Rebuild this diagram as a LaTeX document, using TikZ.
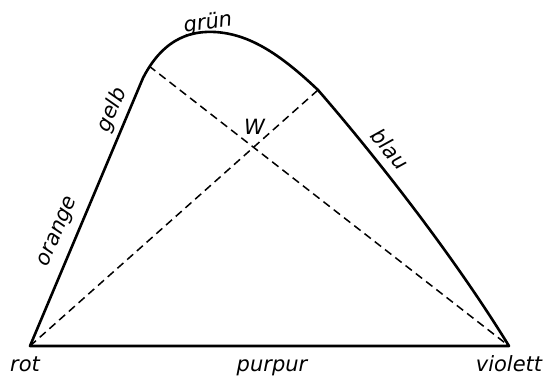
\documentclass[tikz,border=0pt]{standalone}
\usepackage{fontspec}
\setmainfont{DejaVu Sans}
\usetikzlibrary{positioning, calc}
\begin{document}
\begin{tikzpicture}[x=1pt, y=-1pt, font=\fontsize{21}{24}\selectfont\itshape,
    curve/.style={line width=2.6pt, line join=round},
    axis/.style={line width=1.5pt, dash pattern=on 8pt off 5pt},
    colour/.style={inner sep=0pt, anchor=base},
    tag/.style={inner sep=0pt, anchor=center}
]
\useasboundingbox (0,0) rectangle (552,379);
\coordinate (rot) at (30,346);
\coordinate (violett) at (509,346);
\coordinate (gelb) at (149,66);
\coordinate (blau) at (318,90);

\draw[curve] (rot) -- (143,78) .. controls (165,35) and (195,31) .. (215,32)
    .. controls (248,34) and (278,52) .. (blau)
    .. controls (370,150) and (450,250) .. (violett) -- cycle;

\draw[axis] (gelb) -- (violett);
\draw[axis] (rot) -- (blau);
\coordinate (w) at (intersection of gelb--violett and rot--blau);

\node[tag] (wlbl) at ($(w)+(1,-20)$) {W};
\node[colour] (rotlbl) at (25,372) {rot};
\node[colour] (purpurlbl) at (272,372) {purpur};
\node[colour] (violettlbl) at (509,372) {violett};
\node[tag, rotate=67] (orangelbl) at (59,232) {orange};
\node[tag, rotate=66] (gelblbl) at (112,110) {gelb};
\node[tag, rotate=8] (gruenlbl) at (208,23) {grün};
\node[tag, rotate=-50] (blaulbl) at (390,149) {blau};
\end{tikzpicture}
\end{document}
